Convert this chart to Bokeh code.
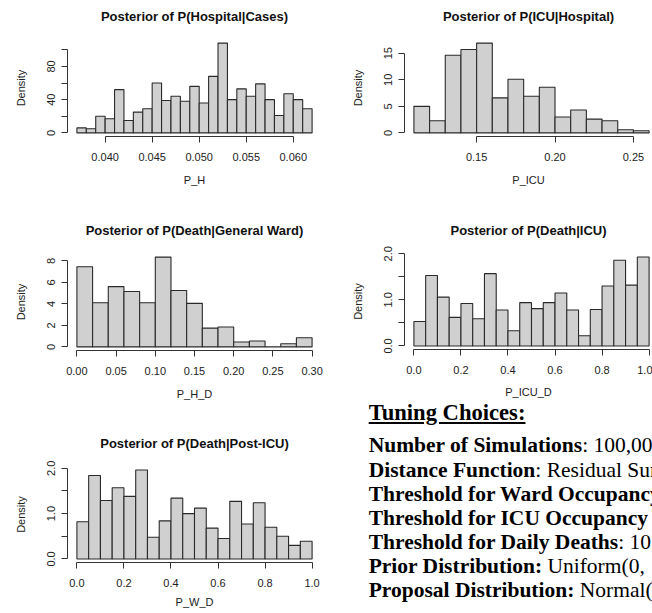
from bokeh.plotting import figure
from bokeh.models import (Range1d, FixedTicker, PrintfTickFormatter, Div,
                          LinearAxis)
from bokeh.layouts import row, column
from bokeh.embed import file_html
from bokeh.resources import INLINE

# ---------------- data ----------------
# Posterior of P(Hospital|Cases)
ph_start, ph_width = 0.037, 0.001
ph_density = [6, 5, 20, 17, 52, 15, 25, 29, 60, 39, 44, 38, 56, 36, 68, 108,
              40, 53, 44, 59, 40, 21, 47, 40, 29]
ph_xticks = [0.040, 0.045, 0.050, 0.055, 0.060]
ph_yticks = [0, 20, 40, 60, 80, 100]
ph_yhidden = [20, 60, 100]

# Posterior of P(ICU|Hospital)
picu_start, picu_width = 0.11, 0.01
picu_density = [5.0, 2.3, 14.6, 15.7, 16.9, 6.6, 10.1, 6.9, 8.6, 3.0, 4.3, 2.6,
                2.3, 0.6, 0.4]
picu_xticks = [0.15, 0.20, 0.25]
picu_yticks = [0, 5, 10, 15]

# Posterior of P(Death|General Ward)
phd_start, phd_width = 0.0, 0.02
phd_density = [7.45, 4.1, 5.6, 5.15, 4.1, 8.35, 5.25, 4.05, 1.75, 1.85, 0.45,
               0.55, 0.0, 0.3, 0.85]
phd_xticks = [0.0, 0.05, 0.10, 0.15, 0.20, 0.25, 0.30]
phd_yticks = [0, 2, 4, 6, 8]

# Posterior of P(Death|ICU)
picud_start, picud_width = 0.0, 0.05
picud_density = [0.53, 1.53, 1.06, 0.62, 0.92, 0.59, 1.57, 0.78, 0.33, 0.94,
                 0.81, 0.94, 1.15, 0.78, 0.22, 0.79, 1.30, 1.86, 1.32, 1.93]

# Posterior of P(Death|Post-ICU)
pwd_start, pwd_width = 0.0, 0.05
pwd_density = [0.82, 1.84, 1.29, 1.57, 1.38, 1.96, 0.48, 0.84, 1.34, 1.00,
               1.12, 0.68, 0.45, 1.27, 0.77, 1.24, 0.70, 0.50, 0.30, 0.39]

prob_xticks = [0.0, 0.2, 0.4, 0.6, 0.8, 1.0]
prob_yticks = [0.0, 0.5, 1.0, 1.5, 2.0]
prob_yhidden = [0.5, 1.5]

tuning_title = "Tuning Choices:"
tuning_labels = ["Number of Simulations", "Distance Function",
                 "Threshold for Ward Occupancy", "Threshold for ICU Occupancy",
                 "Threshold for Daily Deaths", "Prior Distribution:",
                 "Proposal Distribution:"]
tuning_values = [": 100,00", ": Residual Sum", "", "", ": 10",
                 " Uniform(0,", " Normal("]

SANS = "Liberation Sans"
FRAME_W = 254


def make_hist(title, xlabel, start, width, density, xticks, xfmt, yticks, yfmt,
              yhidden, fig_w, fig_h, bl, br, bt, bb, xlab_standoff=10):
    n = len(density)
    left = [start + i * width for i in range(n)]
    right = [start + (i + 1) * width for i in range(n)]
    lo, hi = start, start + n * width
    span = hi - lo
    x0 = lo - 0.04 * span
    x1_full = hi + 0.04 * span
    vis_w = fig_w - bl - br
    x1 = x0 + (x1_full - x0) * vis_w / FRAME_W
    ymax = max(density)
    p = figure(width=fig_w, height=fig_h,
               x_range=Range1d(x0, x1),
               y_range=Range1d(-0.04 * ymax, 1.04 * ymax),
               toolbar_location=None, output_backend="svg",
               min_border_left=bl, min_border_right=br,
               min_border_top=bt, min_border_bottom=bb)
    p.quad(left=left, right=right, top=density, bottom=0,
           fill_color="#D0D0D0", line_color="#2a2a2a", line_width=1.1)
    p.xgrid.visible = False
    p.ygrid.visible = False
    p.outline_line_color = None
    p.background_fill_color = "white"
    p.border_fill_color = "white"

    # panel title: label of a bare axis above the plot region
    ta = LinearAxis(ticker=FixedTicker(ticks=[]), axis_label=title)
    ta.axis_line_color = None
    ta.major_tick_line_color = None
    ta.minor_tick_line_color = None
    ta.major_tick_out = 0
    ta.major_tick_in = 0
    ta.major_label_standoff = 0
    ta.axis_label_standoff = 16
    ta.axis_label_text_font = SANS
    ta.axis_label_text_font_size = "13px"
    ta.axis_label_text_font_style = "bold"
    ta.axis_label_text_color = "#111111"
    p.add_layout(ta, "above")

    xa = p.xaxis[0] if p.below else None
    xa = p.below[0]
    xa.ticker = FixedTicker(ticks=xticks)
    xa.formatter = PrintfTickFormatter(format=xfmt)
    xa.bounds = (xticks[0], xticks[-1])
    xa.axis_label = xlabel
    xa.axis_label_standoff = xlab_standoff
    xa.major_label_standoff = 10

    ya = p.left[0]
    ya.ticker = FixedTicker(ticks=yticks)
    ya.formatter = PrintfTickFormatter(format=yfmt)
    ya.bounds = (yticks[0], yticks[-1])
    ya.axis_label = "Density"
    ya.axis_label_standoff = 18
    ya.major_label_standoff = 6
    ya.major_label_orientation = "vertical"
    if yhidden:
        ya.major_label_overrides = {v: "" for v in yhidden}

    for ax in (xa, ya):
        ax.major_tick_out = 6
        ax.major_tick_in = 0
        ax.minor_tick_line_color = None
        ax.axis_line_color = "#333333"
        ax.major_tick_line_color = "#333333"
        ax.major_label_text_font = SANS
        ax.major_label_text_font_size = "11px"
        ax.major_label_text_color = "#222222"
        ax.axis_label_text_font = SANS
        ax.axis_label_text_font_size = "11px"
        ax.axis_label_text_font_style = "normal"
        ax.axis_label_text_color = "#222222"
    return p


# left column (x 0..326): panels start at y 0, 213, 426
p1 = make_hist("Posterior of P(Hospital|Cases)", "P_H", ph_start, ph_width,
               ph_density, ph_xticks, "%.3f", ph_yticks, "%d", ph_yhidden,
               326, 213, 67, 5, 39, 77)
p3 = make_hist("Posterior of P(Death|General Ward)", "P_H_D", phd_start,
               phd_width, phd_density, phd_xticks, "%.2f", phd_yticks, "%d",
               None, 326, 213, 67, 5, 40, 76)
p5 = make_hist("Posterior of P(Death|Post-ICU)", "P_W_D", pwd_start, pwd_width,
               pwd_density, prob_xticks, "%.1f", prob_yticks, "%.1f",
               prob_yhidden, 326, 187, 67, 5, 40, 51, xlab_standoff=6)
# right column (x 326..652)
p2 = make_hist("Posterior of P(ICU|Hospital)", "P_ICU", picu_start, picu_width,
               picu_density, picu_xticks, "%.2f", picu_yticks, "%d", None,
               326, 213, 78, 0, 39, 77)
p4 = make_hist("Posterior of P(Death|ICU)", "P_ICU_D", picud_start, picud_width,
               picud_density, prob_xticks, "%.1f", prob_yticks, "%.1f",
               prob_yhidden, 326, 187, 78, 0, 40, 50, xlab_standoff=9)

# ---------------- tuning choices text (div from y=400) ----------------
lines = ['<div style="position:absolute;left:42.7px;top:0px;font-size:22.6px;'
         'line-height:normal;font-weight:bold;text-decoration:underline;">'
         + tuning_title + '</div>']
for i, (lab, val) in enumerate(zip(tuning_labels, tuning_values)):
    top = 33.4 + i * 24.1
    lines.append('<div style="position:absolute;left:42.7px;top:%.1fpx;'
                 'font-size:21.5px;line-height:24px;"><b>%s</b>%s</div>'
                 % (top, lab, val))
html = ('<div style="position:relative;width:326px;height:213px;'
        'overflow-x:clip;overflow-y:visible;'
        'font-family:\'Liberation Serif\';color:#000;white-space:nowrap;">'
        + "".join(lines) + '</div>')
div = Div(text=html, width=326, height=213, margin=0)

layout = row(column(p1, p3, p5), column(p2, p4, div))

open("out.html", "w").write(file_html(layout, INLINE))
